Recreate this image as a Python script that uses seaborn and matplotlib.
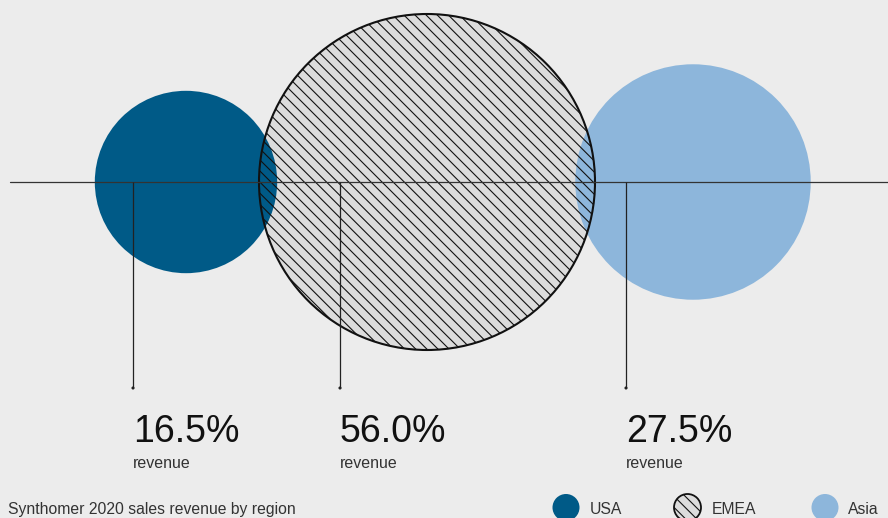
import matplotlib
matplotlib.use("Agg")
import matplotlib.pyplot as plt
from matplotlib.patches import Circle
import numpy as np
import pandas as pd
import seaborn as sns

# ---- data ----
regions = ["USA", "EMEA", "Asia"]
shares = [16.5, 56.0, 27.5]
value_labels = ["16.5%", "56.0%", "27.5%"]
sub_label = "revenue"
title = "Synthomer 2020 sales revenue by region"

# ---- layout (pixel coordinates) ----
W, H = 888, 518
centers_x = [186, 427, 693]
axis_y = 182
scale = 22.45                     # radius = scale * sqrt(share)
leader_x = [133, 340, 626]
leader_end = 388
legend_cx = [566, 687.5, 825]
legend_tx = [590, 712, 848]
legend_cy = 507.5

bg = "#ececec"
colors = {"USA": "#005a87", "EMEA": "#dcdcdc", "Asia": "#8db6db"}
hatch = "\\\\\\"

sns.set_theme(style="white")
plt.rcParams["font.family"] = ["Liberation Sans", "DejaVu Sans"]
plt.rcParams["hatch.linewidth"] = 0.8
plt.rcParams["hatch.color"] = "#111111"

fig = plt.figure(figsize=(W / 100, H / 100), dpi=100, facecolor=bg)
ax = fig.add_axes([0, 0, 1, 1])
ax.set_facecolor(bg)
ax.set_xlim(0, W)
ax.set_ylim(H, 0)
ax.axis("off")

df = pd.DataFrame({"region": regions, "share": shares, "cx": centers_x})
df["r"] = scale * np.sqrt(df["share"])

# base fills
for _, row in df.iterrows():
    if row.region == "EMEA":
        ax.add_patch(Circle((row.cx, axis_y), row.r, facecolor=colors["EMEA"],
                            edgecolor="none", zorder=1))
for _, row in df.iterrows():
    if row.region != "EMEA":
        ax.add_patch(Circle((row.cx, axis_y), row.r, facecolor=colors[row.region],
                            edgecolor="none", zorder=2))
# hatch + outline of EMEA on top
for _, row in df.iterrows():
    if row.region == "EMEA":
        ax.add_patch(Circle((row.cx, axis_y), row.r, facecolor="none",
                            edgecolor="#111111", hatch=hatch, linewidth=0, zorder=3))
        ax.add_patch(Circle((row.cx, axis_y), row.r, facecolor="none",
                            edgecolor="#111111", linewidth=1.5, zorder=4))

# horizontal axis line
ax.plot([10, W], [axis_y, axis_y], color="#333333", lw=0.9, zorder=5)

# leader lines
ax.vlines(leader_x, axis_y, leader_end, color="#222222", lw=0.9, zorder=5)
sns.scatterplot(x=leader_x, y=[leader_end] * 3, ax=ax, color="#222222", s=5,
                edgecolor="none", zorder=6, legend=False)

# labels
for x, vl in zip(leader_x, value_labels):
    ax.text(x, 442, vl, fontsize=27, color="#111111", va="baseline", ha="left")
    ax.text(x, 468, sub_label, fontsize=11.5, color="#333333", va="baseline", ha="left")

ax.text(8, 514, title, fontsize=11.3, color="#333333", va="baseline", ha="left")

# legend
for reg, cx, tx in zip(regions, legend_cx, legend_tx):
    if reg == "EMEA":
        ax.add_patch(Circle((cx, legend_cy), 13.5, facecolor=colors["EMEA"],
                            edgecolor="#111111", hatch=hatch, linewidth=1.3, zorder=3))
    else:
        ax.add_patch(Circle((cx, legend_cy), 13.5, facecolor=colors[reg],
                            edgecolor="none", zorder=3))
    ax.text(tx, 514, reg, fontsize=11.3, color="#333333", va="baseline", ha="left")

fig.savefig("out.png", dpi=100, facecolor=bg)
